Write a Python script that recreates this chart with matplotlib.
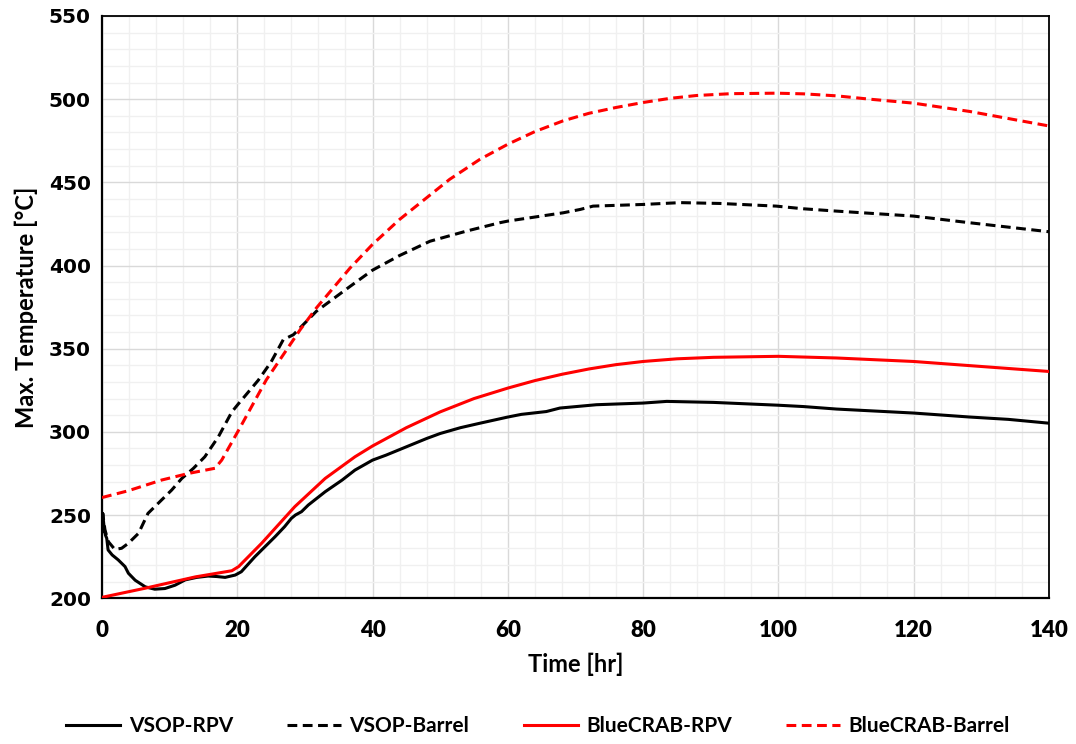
import matplotlib
matplotlib.use("Agg")
import matplotlib.pyplot as plt
from matplotlib.ticker import MultipleLocator

# Time [hr] and max temperature [°C] per series
vsop_rpv_t = [0, 0.1, 0.3, 0.5, 0.7, 0.9, 1.5, 2.4, 3.4, 3.9, 4.9, 6.4, 7.8, 9.3,
              10.8, 12.3, 14, 15.7, 17, 18.2, 19.7, 20.6, 22.6, 25.6, 27, 28, 28.6,
              29.5, 30.5, 33, 35.5, 37.4, 40, 42, 45, 48, 50, 53, 55.9, 60, 62, 65.7,
              67.7, 73.1, 80, 83.5, 90.4, 100, 103.7, 108.6, 120, 128.3, 134, 140]
vsop_rpv_T = [240, 251, 243, 238, 236, 229, 226, 223, 219, 215, 210.8, 206.8, 205.4, 205.8,
              207.8, 211, 212.5, 213.3, 213, 212.5, 213.9, 215.9, 224.9, 237, 243, 248, 250,
              252, 256, 264, 271, 277, 283, 286, 291, 296, 299, 302.5, 305.2, 308.9, 310.5, 312.2,
              314.3, 316.3, 317.3, 318.3, 317.7, 316, 315.2, 313.7, 311.3, 308.9, 307.5, 305.2]

vsop_barrel_t = [0, 0.1, 0.44, 0.93, 1.9, 2.9, 3.9, 5.4, 6.8, 8.3, 10.3, 11.8, 13.5, 15.2,
                 17.2, 19.2, 20.2, 23.1, 25, 26.8, 28.3, 31.7, 36.7, 40, 44, 48.5, 53.9,
                 58.8, 60, 68.2, 70.7, 72.6, 80, 85.5, 91.4, 99.7, 103.7, 108.6, 120, 128.3, 140]
vsop_barrel_T = [240, 251, 241, 234, 229.3, 230, 233, 239, 251, 257, 265, 272, 278, 285,
                 297, 312, 317, 331, 342, 355.4, 358.4, 372.5, 387.5, 397.2, 406, 414.6, 420.7,
                 425.7, 426.7, 431.7, 433.7, 435.7, 436.7, 437.8, 437.3, 435.7, 434.1, 432.7, 429.7, 425.7, 420.3]

bluecrab_rpv_t = [0, 6.4, 13.8, 19.2, 20.2, 23.6, 28.5, 33, 37.4, 40, 45, 50, 55, 60,
                  64, 68, 72, 76, 80, 85, 90.4, 100, 108.6, 120, 128.3, 140]
bluecrab_rpv_T = [200.5, 206, 212.8, 216.5, 219, 233, 255, 272, 285, 291.5, 302.5, 312, 320, 326.3,
                  330.8, 334.6, 337.8, 340.4, 342.3, 343.9, 344.8, 345.4, 344.4, 342.3, 339.8, 336.3]

bluecrab_barrel_t = [0, 3.9, 8.8, 12.8, 16.7, 17.7, 20.2, 24.3, 29.3, 31.7, 36.7, 40, 44,
                     51.4, 55.9, 60, 64, 68.2, 72, 76, 80, 84, 87.9, 93, 99.7, 103.7, 108.6,
                     113.5, 120, 128.3, 140]
bluecrab_barrel_T = [260.5, 264.6, 271, 275, 278.1, 283, 301, 331.3, 361.4, 374.5, 398.6, 412.7, 427.7,
                     451.8, 463.9, 472.9, 480.5, 487, 491.5, 495, 498, 500.5, 502.2, 503.3, 503.6, 503.2, 502,
                     500, 497.6, 492.6, 483.9]

x_ticks = [0, 20, 40, 60, 80, 100, 120, 140]
y_ticks = [200, 250, 300, 350, 400, 450, 500, 550]

fig = plt.figure(figsize=(10.76, 7.44), dpi=100)
ax = fig.add_axes([0.0948, 0.196, 0.880, 0.7825])

lw = 2.2
dash = (0, (3.2, 1.8))
ax.plot(vsop_rpv_t, vsop_rpv_T, color="black", lw=lw, label="VSOP-RPV", zorder=3)
ax.plot(vsop_barrel_t, vsop_barrel_T, color="black", lw=lw, ls=dash, label="VSOP-Barrel", zorder=3)
ax.plot(bluecrab_rpv_t, bluecrab_rpv_T, color="#ff0000", lw=lw, label="BlueCRAB-RPV", zorder=4)
ax.plot(bluecrab_barrel_t, bluecrab_barrel_T, color="#ff0000", lw=lw, ls=dash,
        label="BlueCRAB-Barrel", zorder=4)

ax.set_xlim(0, 140)
ax.set_ylim(200, 550)
ax.set_xticks(x_ticks)
ax.set_yticks(y_ticks)
ax.xaxis.set_minor_locator(MultipleLocator(4))
ax.yaxis.set_minor_locator(MultipleLocator(10))
ax.grid(which="major", color="#d9d9d9", lw=1.0, zorder=0)
ax.grid(which="minor", color="#f0f0f0", lw=1.0, zorder=0)
ax.set_axisbelow(True)
ax.tick_params(which="both", length=0)
ax.tick_params(axis="x", pad=16)
ax.tick_params(axis="y", pad=8)
for s in ax.spines.values():
    s.set_color("black")
    s.set_linewidth(1.3)
ax.spines["left"].set_linewidth(1.6)
ax.spines["bottom"].set_linewidth(1.6)

for lab in ax.get_yticklabels():
    lab.set_fontfamily("DejaVu Sans")
    lab.set_fontweight("bold")
    lab.set_fontsize(14.5)
for lab in ax.get_xticklabels():
    lab.set_fontfamily("Lato")
    lab.set_fontweight("heavy")
    lab.set_fontsize(16)

ax.set_xlabel("Time [hr]", fontfamily="Lato", fontweight="bold", fontsize=17, labelpad=8)
ax.set_ylabel("Max. Temperature [°C]", fontfamily="Lato", fontweight="bold", fontsize=17, labelpad=8)

fig.legend(loc="center", bbox_to_anchor=(0.5, 1 - 726 / 744), ncol=4, frameon=False,
           prop={"family": "Lato", "weight": "bold", "size": 15},
           handlelength=2.6, columnspacing=2.6, handletextpad=0.4)

fig.savefig("out.png", dpi=100, facecolor="white")
